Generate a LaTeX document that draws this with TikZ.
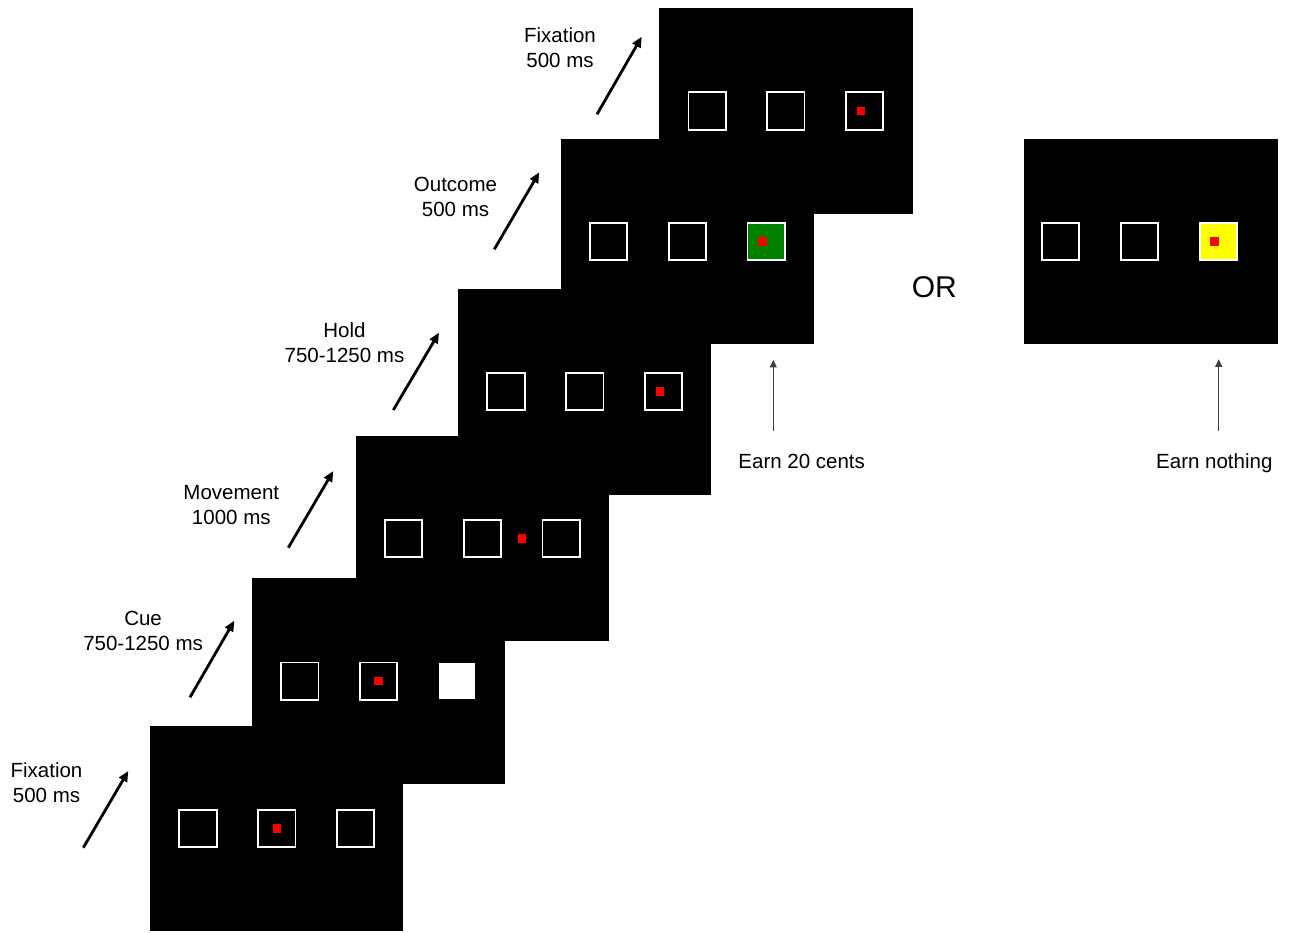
\documentclass[tikz,border=0pt]{standalone}
\usepackage{fontspec}
\setmainfont{Liberation Sans}
\usepackage{xcolor}
\usetikzlibrary{arrows.meta}
\definecolor{wingreen}{RGB}{0,128,0}
\definecolor{misscol}{RGB}{255,255,0}

\begin{document}
\begin{tikzpicture}[
  x=1pt, y=-1pt,
  screen/.style={fill=black, minimum width=253.3pt, minimum height=205.7pt, inner sep=0pt},
  tgt/.style={draw=white, line width=1.8pt, minimum size=37.3pt, inner sep=0pt},
  cuebox/.style={fill=white, minimum size=36pt, inner sep=0pt},
  dot/.style={fill=red, minimum size=8.5pt, inner sep=0pt},
  lbl/.style={align=center, font=\fontsize{20.5}{25}\selectfont},
  arr/.style={-{Triangle[length=10.5pt,width=9pt]}, line width=2.8pt},
  pointer/.style={-{Triangle[length=7.5pt,width=7pt]}, line width=1.3pt, draw=black!75}
]
\useasboundingbox (0,0) rectangle (1291,933);

% screens, bottom to top
\node[screen] at (276.8,828.5) (s1) {};
\node[screen] at (378.6,681.2) (s2) {};
\node[screen] at (482.4,538.6) (s3) {};
\node[screen] at (584.8,391.7) (s4) {};
\node[screen] at (687.3,241.6) (s5) {};
\node[screen] at (785.9,111.0) (s6) {};
\node[screen] at (1151.0,241.4) (r) {};

% targets
\foreach \s in {s1,s2,s3,s4,s5,s6} {
  \node[tgt] at ([xshift=-78.8pt]\s.center) (\s-1) {};
  \node[tgt] at (\s.center) (\s-2) {};
}
\node[tgt] at ([xshift=78.8pt]s1.center) (s1-3) {};
\node[cuebox] at ([xshift=78.8pt]s2.center) (s2-3) {};
\node[tgt] at ([xshift=78.8pt]s3.center) (s3-3) {};
\node[tgt] at ([xshift=78.8pt]s4.center) (s4-3) {};
\node[tgt, fill=wingreen] at ([xshift=78.8pt]s5.center) (s5-3) {};
\node[tgt] at ([xshift=78.8pt]s6.center) (s6-3) {};
\node[tgt] at ([xshift=-90.5pt]r.center) (r-1) {};
\node[tgt] at ([xshift=-11.5pt]r.center) (r-2) {};
\node[tgt, fill=misscol] at ([xshift=67.5pt]r.center) (r-3) {};

% cursor
\node[dot] at (s1-2) (d1) {};
\node[dot] at (s2-2) (d2) {};
\node[dot] at ([xshift=39.4pt]s3-2.center) (d3) {};
\node[dot] at ([xshift=-3.5pt]s4-3.center) (d4) {};
\node[dot] at ([xshift=-3.5pt]s5-3.center) (d5) {};
\node[dot] at ([xshift=-3.5pt]s6-3.center) (d6) {};
\node[dot] at ([xshift=-4.2pt]r-3.center) (dr) {};

% phase labels
\node[lbl] at (46.5,782.7) (l1) {Fixation\\500 ms};
\node[lbl] at (143.1,631.0) (l2) {Cue\\750-1250 ms};
\node[lbl] at (231.3,505.0) (l3) {Movement\\1000 ms};
\node[lbl] at (344.5,342.3) (l4) {Hold\\750-1250 ms};
\node[lbl] at (455.5,196.7) (l5) {Outcome\\500 ms};
\node[lbl] at (560.0,47.3) (l6) {Fixation\\500 ms};

\coordinate (a1) at (83.3,847.7);  \coordinate (b1) at (128.3,771.0);
\coordinate (a2) at (190.0,697.3); \coordinate (b2) at (234.3,620.7);
\coordinate (a3) at (288.3,547.7); \coordinate (b3) at (333.3,471.0);
\coordinate (a4) at (393.3,410.0); \coordinate (b4) at (439.0,332.7);
\coordinate (a5) at (494.3,249.3); \coordinate (b5) at (539.3,172.3);
\coordinate (a6) at (597.0,114.3); \coordinate (b6) at (641.7,36.7);
\foreach \i in {1,...,6}
  \draw[arr] (a\i) -- (b\i);

% outcomes
\node[anchor=base, font=\fontsize{30}{36}\selectfont] at (934.3,297.7) (or) {OR};
\node[anchor=base, lbl] at (801.7,468.5) (win) {Earn 20 cents};
\node[anchor=base, lbl] at (1214.3,468.5) (miss) {Earn nothing};
\coordinate (wb) at (773.3,431); \coordinate (wt) at (773.3,360);
\coordinate (mb) at (1218.7,431); \coordinate (mt) at (1218.7,359.3);
\draw[pointer] (wb) -- (wt);
\draw[pointer] (mb) -- (mt);
\end{tikzpicture}
\end{document}
